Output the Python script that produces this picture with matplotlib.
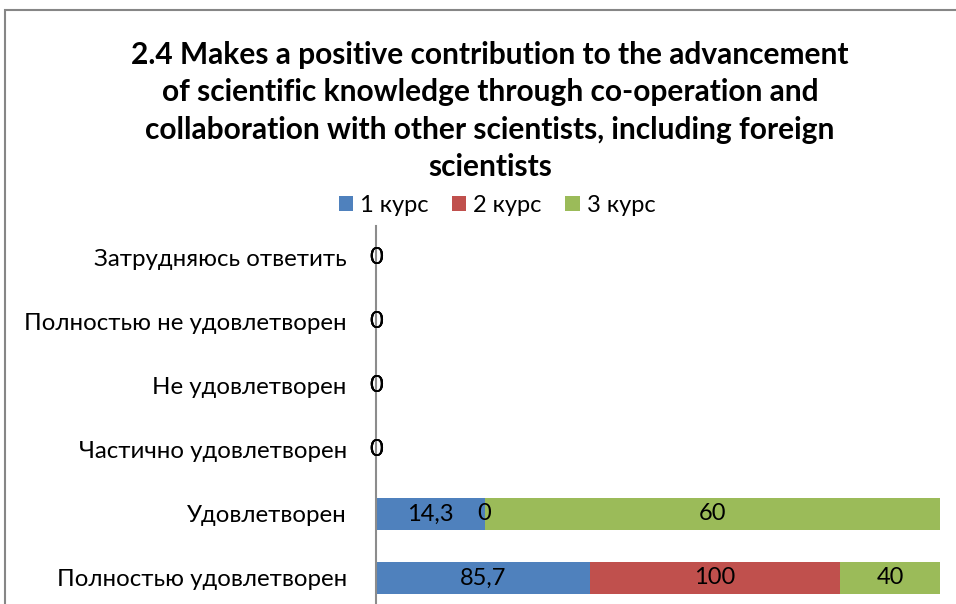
import matplotlib
matplotlib.use("Agg")
import matplotlib.pyplot as plt
import numpy as np

# Data (top-to-bottom order as shown in the chart)
categories = ["Затрудняюсь ответить", "Полностью не удовлетворен", "Не удовлетворен",
              "Частично удовлетворен", "Удовлетворен", "Полностью удовлетворен"]
series_names = ["1 курс", "2 курс", "3 курс"]
course1 = [0, 0, 0, 0, 14.3, 85.7]
course2 = [0, 0, 0, 0, 0, 100]
course3 = [0, 0, 0, 0, 60, 40]
colors = ["#4F81BD", "#C0504D", "#9BBB59"]

title = ("2.4 Makes a positive contribution to the advancement\n"
         "of scientific knowledge through co-operation and\n"
         "collaboration with other scientists, including foreign\n"
         "scientists")

FONT = ["Lato", "DejaVu Sans"]
plt.rcParams["font.family"] = FONT

fig = plt.figure(figsize=(9.56, 6.04), dpi=100)
fig.patch.set_facecolor("white")

# Axes area (bottom intentionally runs below the figure edge, like the cropped original)
ax = fig.add_axes([376 / 956, 1 - 610 / 604, (940 - 376) / 956, 384 / 604])

values = np.array([course1, course2, course3], dtype=float)
totals = values.sum(axis=0)
shares = np.divide(values * 100, totals, out=np.zeros_like(values), where=totals > 0)

y = np.arange(len(categories))[::-1]
left = np.zeros(len(categories))
for i, name in enumerate(series_names):
    bars = ax.barh(y, shares[i], left=left, height=0.5, color=colors[i], label=name, zorder=2)
    labels = [("%g" % v).replace(".", ",") for v in values[i]]
    ax.bar_label(bars, labels=labels, label_type="center", fontsize=17, color="black")
    left += shares[i]

ax.set_xlim(0, 100)
ax.set_ylim(-0.5, len(categories) - 0.5)
ax.set_yticks(y)
ax.set_yticklabels(categories, fontsize=17.3)
ax.tick_params(axis="y", length=0, pad=21)
ax.set_xticks([])
for side in ["top", "right", "bottom"]:
    ax.spines[side].set_visible(False)
ax.spines["left"].set_color("#8C8C8C")
ax.spines["left"].set_linewidth(1.5)

# Legend
ax.legend(loc="center", bbox_to_anchor=(497 / 956, 1 - 205 / 604), bbox_transform=fig.transFigure,
          ncol=3, frameon=False, fontsize=17, handlelength=0.6, handleheight=0.6,
          handletextpad=0.3, columnspacing=1.0)

# Title
fig.text(490 / 956, 1 - 111 / 604, title, ha="center", va="center", fontsize=21.5,
         fontweight="bold", linespacing=1.42)

# Chart border (cropped on right and bottom)
fig.add_artist(plt.Rectangle((5 / 956, -0.05), 1.2, 1 - 10 / 604 + 0.05, transform=fig.transFigure,
                             fill=False, edgecolor="#868686", linewidth=1.5))

fig.savefig("out.png", dpi=100, facecolor="white")
